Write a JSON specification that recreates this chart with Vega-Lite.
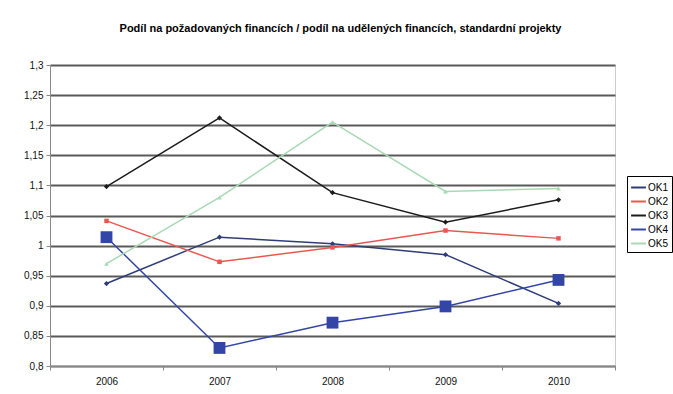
{
  "$schema": "https://vega.github.io/schema/vega-lite/v6.json",
  "width": 565,
  "height": 301,
  "autosize": {"type": "none"},
  "padding": {"left": 50, "top": 65, "right": 58, "bottom": 28},
  "background": "white",
  "title": {
    "text": "Podíl na požadovaných financích / podíl na udělených financích, standardní projekty",
    "font": "Liberation Sans",
    "fontSize": 11,
    "fontWeight": "bold",
    "color": "#000000",
    "offset": 26,
    "dx": 8
  },
  "config": {
    "font": "Liberation Sans",
    "view": {"stroke": "#cccccc", "strokeWidth": 1},
    "axis": {"labelFont": "Liberation Sans", "labelFontSize": 10, "labelColor": "#111111", "domainColor": "#888888", "tickColor": "#888888", "title": null}
  },
  "data": {
    "values": [
      {"year": "2006", "series": "OK1", "value": 0.937},
      {"year": "2007", "series": "OK1", "value": 1.014},
      {"year": "2008", "series": "OK1", "value": 1.003},
      {"year": "2009", "series": "OK1", "value": 0.985},
      {"year": "2010", "series": "OK1", "value": 0.904},
      {"year": "2006", "series": "OK2", "value": 1.041},
      {"year": "2007", "series": "OK2", "value": 0.973},
      {"year": "2008", "series": "OK2", "value": 0.997},
      {"year": "2009", "series": "OK2", "value": 1.025},
      {"year": "2010", "series": "OK2", "value": 1.012},
      {"year": "2006", "series": "OK3", "value": 1.098},
      {"year": "2007", "series": "OK3", "value": 1.212},
      {"year": "2008", "series": "OK3", "value": 1.088},
      {"year": "2009", "series": "OK3", "value": 1.039},
      {"year": "2010", "series": "OK3", "value": 1.076},
      {"year": "2006", "series": "OK4", "value": 1.014},
      {"year": "2007", "series": "OK4", "value": 0.83},
      {"year": "2008", "series": "OK4", "value": 0.872},
      {"year": "2009", "series": "OK4", "value": 0.899},
      {"year": "2010", "series": "OK4", "value": 0.943},
      {"year": "2006", "series": "OK5", "value": 0.97},
      {"year": "2007", "series": "OK5", "value": 1.08},
      {"year": "2008", "series": "OK5", "value": 1.205},
      {"year": "2009", "series": "OK5", "value": 1.09},
      {"year": "2010", "series": "OK5", "value": 1.095}
    ]
  },
  "encoding": {
    "x": {
      "field": "year", "type": "ordinal",
      "scale": {"type": "band", "paddingInner": 0, "paddingOuter": 0},
      "axis": {"labelAngle": 0, "tickBand": "extent", "tickSize": 4, "labelPadding": 6, "grid": false}
    },
    "y": {
      "field": "value", "type": "quantitative",
      "scale": {"domain": [0.8, 1.3], "nice": false, "zero": false},
      "axis": {
        "values": [0.8, 0.85, 0.9, 0.95, 1, 1.05, 1.1, 1.15, 1.2, 1.25, 1.3],
        "labelExpr": "replace(format(datum.value, '.2~f'), '.', ',')",
        "grid": true, "gridColor": "#5a5a5a", "gridWidth": 2,
        "tickSize": 4, "labelPadding": 3
      }
    },
    "color": {
      "field": "series", "type": "nominal",
      "scale": {"domain": ["OK1", "OK2", "OK3", "OK4", "OK5"], "range": ["#2e3d78", "#e8584e", "#1c1c1c", "#3346a8", "#a9d9b4"]},
      "legend": {
        "orient": "none", "legendX": 577, "legendY": 111,
        "title": null, "symbolType": "stroke", "symbolStrokeWidth": 2, "symbolSize": 220,
        "labelFontSize": 10, "labelFont": "Liberation Sans", "labelColor": "#000000",
        "rowPadding": 0, "padding": 3, "strokeColor": "#000000", "fillColor": "white",
        "labelOffset": 1
      }
    }
  },
  "layer": [
    {"mark": {"type": "line", "strokeWidth": 1.5}},
    {
      "transform": [{"filter": "datum.series === 'OK1' || datum.series === 'OK3'"}],
      "mark": {"type": "point", "filled": true, "opacity": 1, "shape": "diamond", "size": 28}
    },
    {
      "transform": [{"filter": "datum.series === 'OK2'"}],
      "mark": {"type": "point", "filled": true, "opacity": 1, "shape": "square", "size": 20}
    },
    {
      "transform": [{"filter": "datum.series === 'OK4'"}],
      "mark": {"type": "point", "filled": true, "opacity": 1, "shape": "square", "size": 140}
    },
    {
      "transform": [{"filter": "datum.series === 'OK5'"}],
      "mark": {"type": "point", "filled": true, "opacity": 1, "shape": "triangle-up", "size": 22}
    }
  ]
}
